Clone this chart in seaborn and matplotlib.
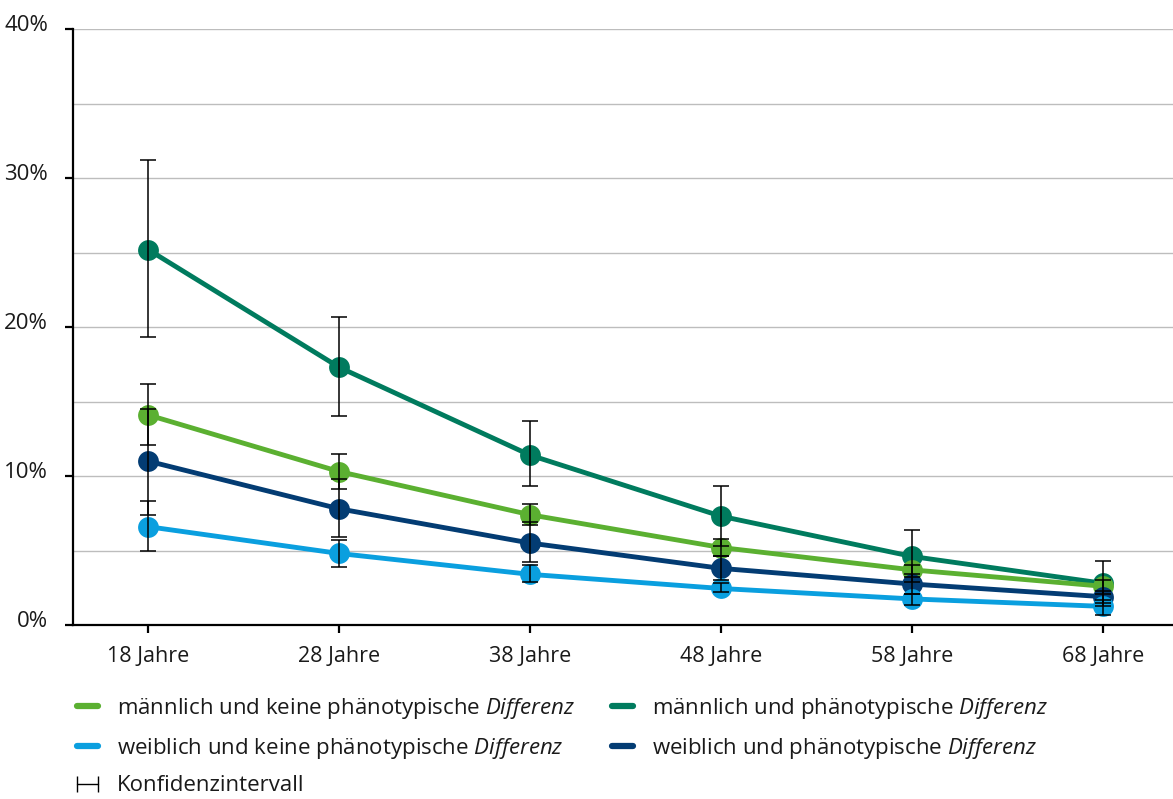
import numpy as np
import pandas as pd
import matplotlib
matplotlib.use("Agg")
import matplotlib.pyplot as plt
import seaborn as sns
from matplotlib.lines import Line2D
from matplotlib.ticker import FuncFormatter, MultipleLocator
from matplotlib.transforms import ScaledTranslation

# ---------------- data (percent) ----------------
ages = ["18 Jahre", "28 Jahre", "38 Jahre", "48 Jahre", "58 Jahre", "68 Jahre"]

m_keine = [14.1, 10.3, 7.4, 5.2, 3.7, 2.6]
m_keine_lo = [12.1, 9.1, 6.7, 4.6, 3.2, 2.1]
m_keine_hi = [16.2, 11.5, 8.1, 5.8, 4.0, 3.0]

m_diff = [25.2, 17.3, 11.4, 7.3, 4.6, 2.8]
m_diff_lo = [19.3, 14.0, 9.3, 5.3, 2.9, 1.3]
m_diff_hi = [31.2, 20.7, 13.7, 9.3, 6.4, 4.3]

w_keine = [6.6, 4.8, 3.4, 2.45, 1.75, 1.25]
w_keine_lo = [5.0, 3.9, 2.9, 2.2, 1.35, 0.7]
w_keine_hi = [8.3, 5.7, 4.0, 2.8, 2.1, 1.7]

w_diff = [11.0, 7.8, 5.5, 3.8, 2.75, 1.9]
w_diff_lo = [7.4, 5.9, 4.2, 3.0, 2.1, 1.5]
w_diff_hi = [14.5, 9.8, 6.9, 4.6, 3.4, 2.3]

lbl_mk = "männlich und keine phänotypische"
lbl_md = "männlich und phänotypische"
lbl_wk = "weiblich und keine phänotypische"
lbl_wd = "weiblich und phänotypische"
lbl_ci = "Konfidenzintervall"

colors = {lbl_md: "#007B5E", lbl_mk: "#5BB031", lbl_wd: "#033C73", lbl_wk: "#0A9FDF"}

series = [
    (lbl_md, m_diff, m_diff_lo, m_diff_hi),
    (lbl_mk, m_keine, m_keine_lo, m_keine_hi),
    (lbl_wd, w_diff, w_diff_lo, w_diff_hi),
    (lbl_wk, w_keine, w_keine_lo, w_keine_hi),
]

rows = []
for name, vals, lo, hi in series:
    for a, v in zip(ages, vals):
        rows.append({"Alter": a, "Anteil": v, "Gruppe": name})
df = pd.DataFrame(rows)

# ---------------- style ----------------
sns.set_theme(style="white")
plt.rcParams["font.family"] = ["Open Sans", "DejaVu Sans"]
plt.rcParams["mathtext.fontset"] = "custom"
plt.rcParams["mathtext.it"] = "Open Sans:italic"
plt.rcParams["mathtext.rm"] = "Open Sans"

fig = plt.figure(figsize=(11.73, 7.99), dpi=100)
ax = fig.add_axes([73 / 1173, 1 - 625 / 799, 1 - 73 / 1173, (625 - 29) / 799])

sns.lineplot(data=df, x="Alter", y="Anteil", hue="Gruppe", palette=colors,
             hue_order=[lbl_md, lbl_mk, lbl_wd, lbl_wk],
             linewidth=3.5, marker="o", markersize=15, markeredgewidth=0,
             legend=False, ax=ax, zorder=3)

xpos = np.arange(len(ages))
for name, vals, lo, hi in series:
    v = np.array(vals)
    yerr = np.vstack([v - np.array(lo), np.array(hi) - v])
    ax.errorbar(xpos, v, yerr=yerr, fmt="none", ecolor="black",
                elinewidth=1.1, capsize=6, capthick=1.1, zorder=5)

ax.set_xlim(-0.393, 5.366)
ax.set_ylim(0, 40)
ax.yaxis.set_major_locator(MultipleLocator(10))
ax.yaxis.set_minor_locator(MultipleLocator(5))
ax.yaxis.set_major_formatter(FuncFormatter(lambda v, p: f"{int(v)}%"))
ax.grid(True, axis="y", which="both", color="#bdbdbd", linewidth=1.0)
ax.set_axisbelow(True)
ax.set_xlabel("")
ax.set_ylabel("")

for s in ["top", "right"]:
    ax.spines[s].set_visible(False)
for s in ["left", "bottom"]:
    ax.spines[s].set_color("black")
    ax.spines[s].set_linewidth(1.6)

ax.tick_params(axis="y", which="major", direction="out", length=6, width=1.6,
               color="black", labelsize=16, labelcolor="#1a1a1a", pad=12, left=True)
ax.tick_params(axis="y", which="minor", length=0)
ax.tick_params(axis="x", direction="out", length=6, width=1.6, color="black",
               labelsize=15.5, labelcolor="#1a1a1a", pad=9, bottom=True)
for lab in ax.get_yticklabels():
    lab.set_transform(lab.get_transform() + ScaledTranslation(0, 6 / 100, fig.dpi_scale_trans))

# ---------------- legend ----------------
def h(c):
    return Line2D([], [], color=c, linewidth=4.5)

ci_handle = Line2D([], [], color="black", linewidth=1.0, marker="|", markersize=11, markeredgewidth=1.0)
it = r" $\it{Differenz}$"

leg_kw = dict(loc="upper left", frameon=False, fontsize=16, handlelength=1.55,
              handletextpad=0.55, labelspacing=0.66, numpoints=2,
              borderaxespad=0, borderpad=0, labelcolor="#1a1a1a")
fig.legend([h(colors[lbl_mk]), h(colors[lbl_wk]), ci_handle],
           [lbl_mk + it, lbl_wk + it, lbl_ci],
           bbox_to_anchor=(70 / 1173, 1 - 696 / 799), **leg_kw)
fig.legend([h(colors[lbl_md]), h(colors[lbl_wd])],
           [lbl_md + it, lbl_wd + it],
           bbox_to_anchor=(605 / 1173, 1 - 696 / 799), **leg_kw)

fig.savefig("out.png", dpi=100)
